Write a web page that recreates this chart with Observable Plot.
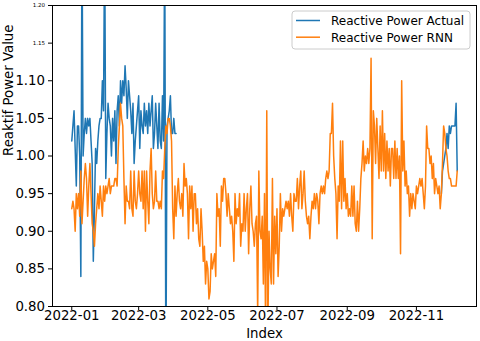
<!DOCTYPE html>
<html><head><meta charset="utf-8">
<script src="https://cdn.jsdelivr.net/npm/d3@7"></script>
<script src="https://cdn.jsdelivr.net/npm/@observablehq/plot@0.6"></script>
<style>
body{margin:0;background:#fff;}
#chart{width:480px;height:341px;}
</style></head><body><div id="chart"></div>
<script>
// ---- data (daily values, starting 2022-01-01) ----
const startDate = "2022-01-01";
const rnnValues = [
0.93,0.94,0.93,0.90,0.95,0.93,0.95,0.92,0.98,0.91,
0.94,0.97,0.99,0.97,0.92,0.96,0.99,0.95,0.91,0.90,
0.88,0.91,0.93,0.95,0.93,0.96,0.94,0.92,0.96,0.94,
0.96,0.95,0.96,0.97,0.95,0.96,0.96,0.96,0.97,0.97,
0.96,1.01,1.04,1.07,1.05,1.04,0.97,0.91,0.96,0.94,
0.94,0.93,0.98,0.93,0.92,0.98,0.94,0.93,0.95,0.98,
0.95,0.94,0.98,0.93,0.98,0.90,0.98,0.94,0.91,0.98,
1.01,0.95,0.93,0.94,0.98,0.94,0.94,0.93,0.94,0.93,
0.98,0.97,1.01,1.04,1.03,1.05,1.05,1.04,1.02,0.93,
0.89,0.96,0.92,0.95,0.97,0.94,0.93,0.95,0.92,0.99,
0.96,0.97,0.95,0.89,0.96,0.93,0.96,0.90,0.95,0.95,
0.91,0.93,0.89,0.88,0.93,0.90,0.86,0.88,0.83,0.86,
0.85,0.81,0.82,0.87,0.85,0.86,0.87,0.84,0.95,0.92,
0.93,0.88,0.96,0.94,0.97,0.97,0.95,0.92,0.95,0.93,
0.91,0.92,0.90,0.86,0.95,0.91,0.93,0.92,0.95,0.88,
0.91,0.90,0.95,0.90,0.93,0.95,0.87,0.93,0.96,0.91,
0.90,0.88,0.91,0.92,0.79,0.98,0.90,0.89,0.92,0.83,
0.95,0.76,1.06,0.77,0.90,0.85,0.83,0.97,0.83,0.92,
0.87,0.93,0.84,0.88,0.95,0.90,0.93,0.92,0.93,0.94,
0.93,0.94,0.92,0.95,0.92,0.90,0.95,0.94,0.94,0.97,
0.93,0.96,0.98,0.93,0.95,0.98,0.94,0.92,0.91,0.92,
0.89,0.92,0.94,0.93,0.95,0.93,0.95,0.94,0.91,0.95,
0.96,0.95,0.96,0.95,0.97,0.98,0.97,0.98,1.03,1.03,
1.07,1.00,0.97,0.95,0.89,0.96,0.94,1.02,0.93,1.02,
0.94,0.97,0.93,0.95,0.92,0.93,0.92,0.96,0.92,0.96,
0.91,0.90,0.94,0.90,0.93,0.97,0.99,1.02,0.98,1.00,
0.99,1.01,0.99,1.01,1.13,0.89,1.06,1.04,0.99,1.05,
1.01,0.97,1.04,0.98,1.06,0.98,1.03,0.97,1.02,0.98,
1.01,0.96,1.01,1.01,0.97,1.02,0.97,1.01,0.97,1.00,
0.87,1.10,0.98,1.02,0.96,0.98,0.95,0.96,0.92,0.95,
0.93,0.95,0.94,0.93,0.96,0.95,0.96,0.97,0.96,0.97,
0.95,0.93,0.96,1.04,1.01,1.01,0.99,1.00,0.97,0.99,
0.95,0.97,0.96,0.95,0.96,0.93,0.95,0.99,1.04,1.03,
1.01,1.00,0.98,0.97,0.97,0.96,0.96,0.96,0.96,0.96,0.98
];
// Actual: first stretch from day 0, second stretch from day 326
const actualEarly = [
1.02,1.04,1.06,1.01,0.96,1.04,1.04,1.00,0.84,1.30,
1.00,1.03,1.05,1.03,1.05,1.04,1.05,1.02,0.99,0.86,
0.93,1.01,0.99,1.02,1.04,1.05,1.05,1.10,1.06,1.30,
0.97,1.03,1.07,1.05,1.04,1.00,1.05,1.02,1.06,0.99,
1.06,1.08,1.04,1.10,1.07,1.10,1.08,1.12,1.09,1.05,
1.10,1.08,1.06,1.03,1.07,0.99,1.02,1.04,1.06,1.08,
1.01,1.06,1.04,1.03,1.07,1.04,1.06,1.03,1.07,1.04,
1.06,1.08,1.01,1.03,1.07,1.04,1.01,1.07,1.02,1.01,
1.08,1.02,1.30,0.70,1.04,1.05,1.06,1.08,1.03,1.03,
1.05,1.03,1.03
];
const actualLateStartDay = 326;
const actualLate = [0.95,0.98,0.99,1.00,1.01,1.03,1.01,1.04,1.03,1.04,1.04,1.04,1.04,1.07,0.98];

const xTickLabels = ["2022-01","2022-03","2022-05","2022-07","2022-09","2022-11"];
const yTickValues = [0.80,0.85,0.90,0.95,1.00,1.05,1.10,1.15,1.20];
const smallYTicks = ["1.20","1.15"];
const seriesNames = ["Reactive Power Actual","Reactive Power RNN"];
const seriesColors = ["#1f77b4","#ff7f0e"];
const xDomain = ["2021-12-15","2022-12-24"];
const yDomain = [0.8, 1.2];

// ---- build tables ----
const t0 = new Date(startDate + "T00:00Z");
const dayAt = i => d3.utcDay.offset(t0, i);
const rnn = rnnValues.map((v, i) => ({date: dayAt(i), value: v}));
const actual = [
  ...actualEarly.map((v, i) => ({date: dayAt(i), value: v, seg: 0})),
  ...actualLate.map((v, i) => ({date: dayAt(actualLateStartDay + i), value: v, seg: 1}))
];
const xTicks = xTickLabels.map(s => new Date(s + "-01T00:00Z"));

const FONT = "DejaVu Sans";
const plot = Plot.plot({
  width: 480, height: 341,
  marginLeft: 52, marginRight: 4, marginTop: 5, marginBottom: 35,
  style: {fontFamily: FONT, fontSize: "13.3px", color: "#000", background: "#fff", overflow: "visible"},
  x: {type: "utc", domain: xDomain.map(s => new Date(s + "T00:00Z"))},
  y: {domain: yDomain},
  marks: [
    Plot.line(actual, {x: "date", y: "value", z: "seg", stroke: seriesColors[0], strokeWidth: 1.5, clip: true}),
    Plot.line(rnn, {x: "date", y: "value", stroke: seriesColors[1], strokeWidth: 1.5, clip: true}),
    Plot.frame({stroke: "#000", strokeWidth: 1}),
    Plot.axisX({ticks: xTicks, tickFormat: d3.utcFormat("%Y-%m"), tickSize: 4, tickPadding: 0.5, label: null, stroke: "#000"}),
    Plot.axisY({ticks: yTickValues, tickFormat: d3.format(".2f"), tickSize: 4, tickPadding: 3.5, label: null, stroke: "#000"}),
    Plot.text(["Index"], {frameAnchor: "bottom", lineAnchor: "middle", dy: 27.5, fontSize: 13.3, fill: "#000"}),
    Plot.text(["Reaktif Power Value"], {frameAnchor: "left", lineAnchor: "middle", dx: -44, rotate: -90, fontSize: 13.3, fill: "#000"})
  ]
});

// shrink the two top y tick labels like in the reference
plot.querySelectorAll("text").forEach(t => {
  if (smallYTicks.includes(t.textContent)) { t.setAttribute("font-size", "5.5"); t.style.fontSize = "5.5px"; }
});

// legend
const svg = d3.select(plot);
const lg = svg.append("g").attr("font-family", FONT).attr("font-size", 12).attr("text-anchor", "start");
lg.append("rect").attr("x", 292).attr("y", 11).attr("width", 178).attr("height", 38)
  .attr("rx", 3).attr("fill", "#fff").attr("fill-opacity", 0.8).attr("stroke", "#cccccc").attr("stroke-width", 1);
seriesNames.forEach((name, i) => {
  const yy = 20.5 + i * 16.7;
  lg.append("line").attr("x1", 296).attr("x2", 320).attr("y1", yy).attr("y2", yy)
    .attr("stroke", seriesColors[i]).attr("stroke-width", 1.5);
  lg.append("text").attr("x", 331).attr("y", yy + 4.5).attr("fill", "#000").attr("text-anchor", "start").text(name);
});

document.getElementById("chart").appendChild(plot);
</script>
</body></html>
